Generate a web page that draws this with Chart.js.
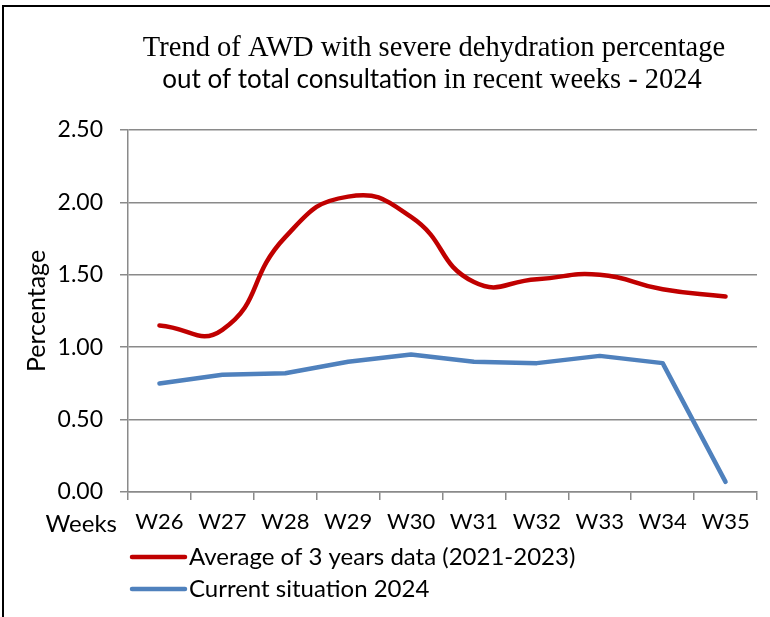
<!DOCTYPE html>
<html>
<head>
<meta charset="utf-8">
<script src="https://cdn.jsdelivr.net/npm/chart.js@4"></script>
<style>
  html, body { margin: 0; padding: 0; background: #ffffff; }
  #wrap { position: relative; width: 770px; height: 617px; }
</style>
</head>
<body>
<div id="wrap"><canvas id="c" width="770" height="617"></canvas></div>
<script>
// ---- data ----
const categories = ['W26', 'W27', 'W28', 'W29', 'W30', 'W31', 'W32', 'W33', 'W34', 'W35'];
const averageValues = [1.15, 1.12, 1.76, 2.04, 1.90, 1.45, 1.47, 1.50, 1.40, 1.35];
const currentValues = [0.75, 0.81, 0.82, 0.90, 0.95, 0.90, 0.89, 0.94, 0.89, 0.07];
const seriesLabels = ['Average of 3 years data (2021-2023)', 'Current situation 2024'];
const titleLine1 = 'Trend of AWD with severe dehydration percentage';
const titleLine2Sans = 'out of total consultation ';
const titleLine2Serif = 'in recent weeks - 2024';
const xAxisLabel = 'Weeks';
const yAxisLabel = 'Percentage';

const SANS = 'Lato, "Liberation Sans", sans-serif';
const SERIF = '"Liberation Serif", "Times New Roman", serif';
const GRID = '#8a8a8a';

const framePlugin = {
  id: 'frame',
  beforeDraw(chart) {
    const ctx = chart.ctx;
    ctx.save();
    ctx.fillStyle = '#ffffff';
    ctx.fillRect(0, 0, chart.width, chart.height);
    ctx.strokeStyle = '#000000';
    ctx.lineWidth = 2;
    ctx.beginPath();
    ctx.moveTo(3, chart.height + 5);
    ctx.lineTo(3, 6);
    ctx.lineTo(chart.width + 5, 6);
    ctx.stroke();
    ctx.restore();
  }
};

const decorPlugin = {
  id: 'decor',
  afterDraw(chart) {
    const ctx = chart.ctx;
    ctx.save();
    ctx.fillStyle = '#000000';
    ctx.textBaseline = 'alphabetic';
    // title line 1
    ctx.font = '28.5px ' + SERIF;
    ctx.textAlign = 'center';
    ctx.fillText(titleLine1, 434, 56);
    // title line 2 (mixed fonts)
    ctx.textAlign = 'left';
    const sansFont = '26px ' + SANS;
    const serifFont = '28.5px ' + SERIF;
    ctx.font = sansFont;
    const w1 = ctx.measureText(titleLine2Sans).width;
    ctx.font = serifFont;
    const w2 = ctx.measureText(titleLine2Serif).width;
    const x0 = 432 - (w1 + w2) / 2;
    ctx.font = sansFont;
    ctx.fillText(titleLine2Sans, x0, 88);
    ctx.font = serifFont;
    ctx.fillText(titleLine2Serif, x0 + w1, 88);

    // "Weeks" label next to x tick labels
    const xs = chart.scales.x;
    ctx.font = '24px ' + SANS;
    ctx.textAlign = 'right';
    ctx.textBaseline = 'middle';
    ctx.fillText(xAxisLabel, 117, xs.top + 32);

    // legend (stacked)
    const ds = chart.data.datasets;
    ctx.textAlign = 'left';
    ctx.font = '24px ' + SANS;
    ds.forEach((d, i) => {
      const y = 557 + i * 32;
      ctx.strokeStyle = d.borderColor;
      ctx.lineWidth = 4.5;
      ctx.lineCap = 'round';
      ctx.beginPath();
      ctx.moveTo(132, y);
      ctx.lineTo(185, y);
      ctx.stroke();
      ctx.fillStyle = '#000000';
      ctx.fillText(d.label, 189, y);
    });
    ctx.restore();
  }
};

new Chart(document.getElementById('c'), {
  type: 'line',
  data: {
    labels: categories,
    datasets: [
      {
        label: seriesLabels[0],
        data: averageValues,
        borderColor: '#C00000',
        backgroundColor: '#C00000',
        borderWidth: 4.5,
        tension: 0.5,
        pointRadius: 0,
        borderCapStyle: 'round',
        borderJoinStyle: 'round',
        fill: false
      },
      {
        label: seriesLabels[1],
        data: currentValues,
        borderColor: '#4F81BD',
        backgroundColor: '#4F81BD',
        borderWidth: 4.5,
        tension: 0,
        pointRadius: 0,
        borderCapStyle: 'round',
        borderJoinStyle: 'round',
        fill: false
      }
    ]
  },
  options: {
    responsive: false,
    animation: false,
    layout: { padding: { top: 130, right: 13, bottom: 75, left: 0 } },
    plugins: {
      legend: { display: false },
      title: { display: false },
      tooltip: { enabled: false }
    },
    scales: {
      x: {
        type: 'category',
        offset: true,
        grid: {
          offset: true,
          drawOnChartArea: false,
          drawTicks: true,
          tickLength: 8,
          color: GRID,
          lineWidth: 1.5
        },
        border: { color: GRID, width: 1.5 },
        ticks: {
          color: '#000000',
          font: { family: SANS, size: 22 },
          padding: 9,
          maxRotation: 0,
          autoSkip: false
        },
        afterFit: s => { s.height = 50; }
      },
      y: {
        min: 0,
        max: 2.5,
        grid: {
          color: GRID,
          lineWidth: 1.5,
          drawTicks: true,
          tickLength: 8
        },
        border: { color: GRID, width: 1.5 },
        ticks: {
          stepSize: 0.5,
          color: '#000000',
          font: { family: SANS, size: 23 },
          padding: 17,
          callback: v => Number(v).toFixed(2)
        },
        title: {
          display: true,
          text: yAxisLabel,
          color: '#000000',
          font: { family: SANS, size: 25 },
          padding: { top: 22, bottom: 0 }
        },
        afterFit: s => { s.width = 128; }
      }
    }
  },
  plugins: [framePlugin, decorPlugin]
});
</script>
</body>
</html>
